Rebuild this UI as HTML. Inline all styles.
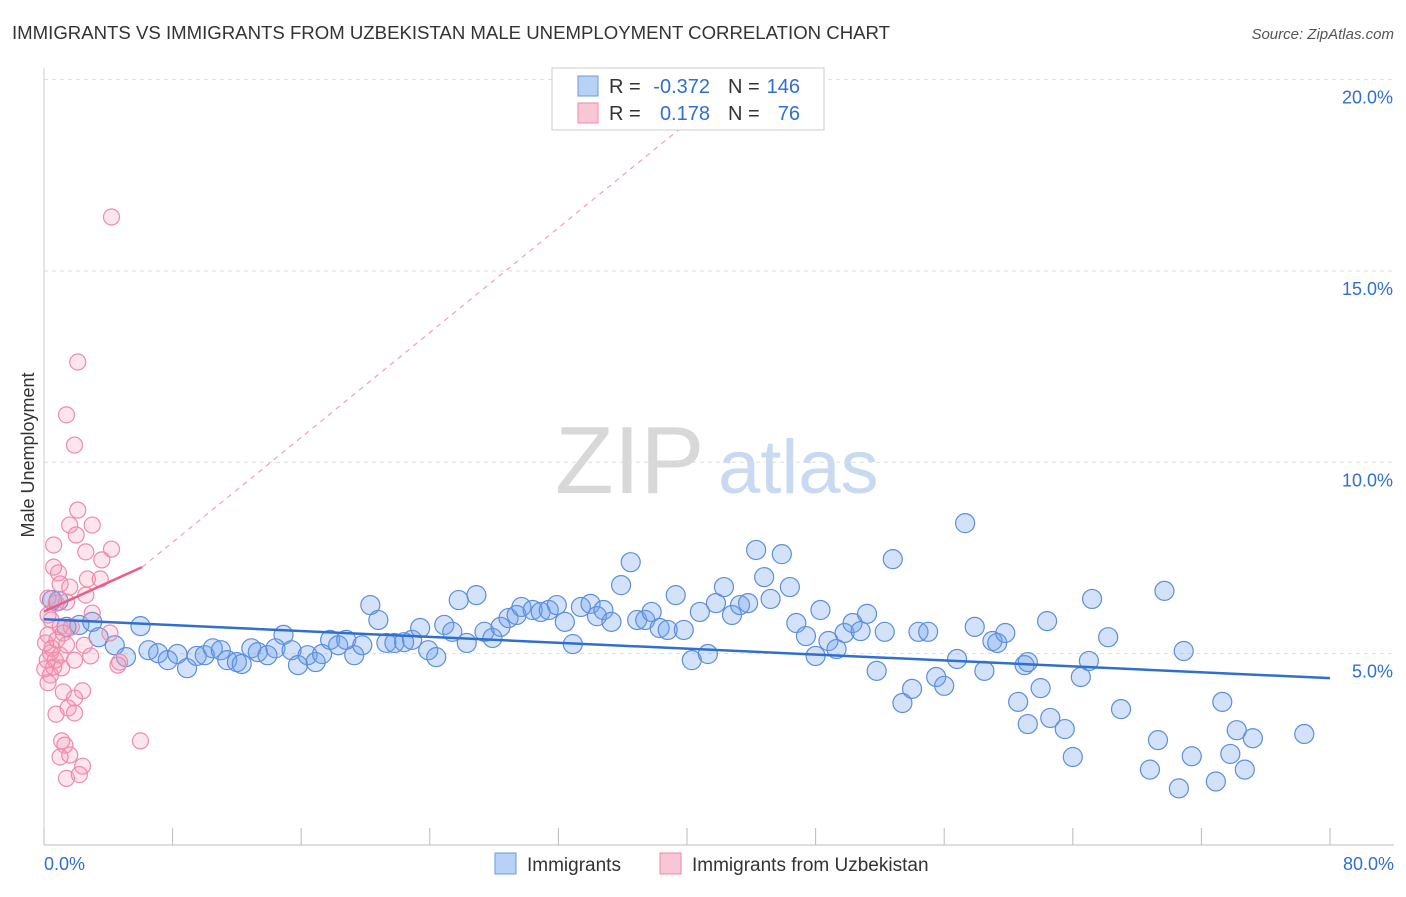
<!DOCTYPE html>
<html><head><meta charset="utf-8"><style>
body{margin:0;background:#fff;font-family:"Liberation Sans",sans-serif}
svg text{font-family:"Liberation Sans",sans-serif}
</style></head><body>
<svg id="c" width="1406" height="892" xmlns="http://www.w3.org/2000/svg">
<text x="12" y="39" font-size="18" fill="#333" textLength="878" lengthAdjust="spacingAndGlyphs">IMMIGRANTS VS IMMIGRANTS FROM UZBEKISTAN MALE UNEMPLOYMENT CORRELATION CHART</text>
<text x="1394" y="39" font-size="15" fill="#555" font-style="italic" text-anchor="end">Source: ZipAtlas.com</text>
<g>
<text x="555" y="493" font-size="96" fill="#d8d8d8" font-family="Liberation Serif">ZIP</text>
<text x="718" y="493" font-size="76" fill="#c8daf2">atlas</text>
</g>
<g id="grid"></g><g id="axes"></g><g id="marks"></g>
<text x="34" y="455" font-size="18" fill="#333" text-anchor="middle" transform="rotate(-90 34 455)">Male Unemployment</text>
<g>
<rect x="552" y="68" width="272" height="62" fill="#fff" stroke="#ccc"/>
<rect x="578" y="76" width="20" height="20" fill="#b8d2f5" stroke="#6a9ae0"/>
<rect x="578" y="103" width="20" height="20" fill="#f9c6d6" stroke="#f08aaa"/>
<g font-size="20">
<text x="609" y="93" fill="#333">R =</text><text x="710" y="93" fill="#2f6fd0" text-anchor="end">-0.372</text>
<text x="728" y="93" fill="#333">N =</text><text x="800" y="93" fill="#2f6fd0" text-anchor="end">146</text></g>
<g font-size="20">
<text x="609" y="120" fill="#333">R =</text><text x="710" y="120" fill="#2f6fd0" text-anchor="end">0.178</text>
<text x="728" y="120" fill="#333">N =</text><text x="800" y="120" fill="#2f6fd0" text-anchor="end">76</text></g>
</g>
<g>
<rect x="495" y="853" width="21" height="21" fill="#b8d2f5" stroke="#6a9ae0"/>
<text x="527" y="871" font-size="19" fill="#333">Immigrants</text>
<rect x="660" y="853" width="21" height="21" fill="#f9c6d6" stroke="#f08aaa"/>
<text x="692" y="871" font-size="19" fill="#333">Immigrants from Uzbekistan</text>
</g>
</svg>
<script>
const yTicks=[5,10,15,20];
const yTickLabels=["5.0%","10.0%","15.0%","20.0%"];
const xTickLabels=["0.0%","80.0%"];
const blueTrend=[5.9,4.36];
const pinkTrend=[6.1,7.26];
const pinkTrendX=[0,6.1];
const pinkDashEnd=[39.6,18.73];
const blueX=[0.5,0.9,1.4,2.2,3.0,3.4,4.4,5.1,6.0,6.5,7.1,7.7,8.3,8.9,9.5,10.0,10.5,11.0,11.4,12.0,12.3,12.9,13.3,13.9,14.4,14.9,15.4,15.8,16.4,16.9,17.3,17.8,18.3,18.8,19.3,19.8,20.3,20.8,21.3,21.8,22.4,22.9,23.4,23.9,24.4,24.9,25.4,25.8,26.3,26.9,27.4,27.9,28.4,28.9,29.4,29.7,30.4,30.9,31.4,31.9,32.4,32.9,33.4,34.0,34.4,34.8,35.3,35.9,36.5,36.9,37.4,37.8,38.3,38.8,39.3,39.8,40.3,40.8,41.3,41.8,42.3,42.8,43.3,43.8,44.3,44.8,45.2,45.9,46.4,46.8,47.4,48.0,48.3,48.8,49.3,49.8,50.3,50.8,51.2,51.8,52.3,52.8,53.4,54.0,54.4,55.0,55.5,56.0,56.8,57.3,57.9,58.5,59.0,59.3,59.8,60.6,61.0,61.2,61.2,62.0,62.4,62.6,63.5,64.0,64.5,65.0,65.2,66.2,67.0,68.8,69.3,69.7,70.6,70.9,71.4,72.9,73.3,73.8,74.2,74.7,75.2,78.4];
const blueY=[6.4,6.38,5.7,5.75,5.83,5.43,5.22,4.91,5.72,5.09,5.01,4.83,4.99,4.62,4.94,4.96,5.14,5.09,4.83,4.78,4.73,5.14,5.04,4.96,5.14,5.49,5.09,4.70,4.96,4.78,4.99,5.36,5.22,5.36,4.96,5.22,6.27,5.88,5.28,5.28,5.30,5.36,5.67,5.09,4.91,5.75,5.57,6.40,5.28,6.53,5.57,5.41,5.70,5.93,6.01,6.22,6.14,6.09,6.14,6.27,5.83,5.25,6.22,6.30,5.98,6.14,5.83,6.79,7.39,5.88,5.88,6.09,5.67,5.62,6.53,5.62,4.83,6.09,4.99,6.32,6.74,6.01,6.27,6.32,7.71,7.00,6.43,7.60,6.74,5.80,5.46,4.94,6.14,5.33,5.12,5.54,5.80,5.59,6.04,4.55,5.57,7.47,3.71,4.08,5.57,5.57,4.39,4.16,4.86,8.41,5.70,4.55,5.33,5.28,5.54,3.74,4.70,4.78,3.16,4.10,5.85,3.32,3.03,2.30,4.39,4.81,6.43,5.43,3.55,1.97,2.74,6.64,1.48,5.07,2.32,1.66,3.74,2.38,3.00,1.97,2.79,2.90];
const pinkX=[4.2,2.1,1.4,1.9,2.1,1.6,3.0,2.0,0.6,4.2,2.6,3.6,0.6,2.7,3.5,1.0,1.6,0.25,0.75,1.4,2.6,3.0,0.45,1.0,1.7,4.1,0.25,0.8,1.2,2.5,0.5,1.0,1.9,0.2,0.6,2.9,4.7,4.6,0.4,1.1,0.25,1.2,2.4,1.9,0.75,1.5,1.9,1.1,1.3,1.6,1.0,2.4,1.4,2.2,6.0,0.25,0.9,0.4,1.4,0.1,0.7,0.05];
const pinkY=[16.41,12.62,11.24,10.45,8.75,8.36,8.36,8.10,7.84,7.73,7.66,7.45,7.26,6.95,6.95,6.82,6.74,6.45,6.32,6.35,6.53,6.06,5.88,5.70,5.70,5.54,5.49,5.36,5.54,5.22,5.14,4.96,4.83,4.83,4.65,4.94,4.78,4.70,4.44,4.63,4.24,4.00,4.03,3.84,3.42,3.58,3.45,2.72,2.61,2.35,2.30,2.06,1.74,1.84,2.72,6.01,7.11,5.02,5.23,5.28,4.83,4.60];
const NS="http://www.w3.org/2000/svg";
const X=v=>44+v*(1330-44)/80, Y=v=>845-v*38.27;
function mk(t,a,p){const e=document.createElementNS(NS,t);for(const k in a)e.setAttribute(k,a[k]);p.appendChild(e);return e;}
const grid=document.getElementById('grid'),axes=document.getElementById('axes'),marks=document.getElementById('marks');
yTicks.forEach((v,i)=>{
 const l=mk('line',{x1:44,x2:1394,y1:Y(v),y2:Y(v),stroke:'#ddd','stroke-dasharray':'4,4'},grid);
 
 
 const t=mk('text',{x:1393,y:Y(v)+24,'font-size':18,fill:'#2f6fd0','text-anchor':'end'},axes);t.textContent=yTickLabels[i];
 
 
});
const ax=mk('line',{x1:44,x2:1394,y1:845,y2:845,stroke:'#bbb'},axes);


const ay=mk('line',{x1:44,x2:44,y1:68,y2:845,stroke:'#ccc'},axes);


for(let i=0;i<=10;i++){const tk=mk('line',{x1:X(i*8),x2:X(i*8),y1:828,y2:845,stroke:'#bbb'},axes);
 
 }
[[0,'start',44],[80,'end',1394]].forEach((d,i)=>{const t=mk('text',{x:d[2],y:870,'font-size':18,fill:'#2f6fd0','text-anchor':d[1]},axes);t.textContent=xTickLabels[i];
 
 });
blueX.forEach((x,i)=>{const c=mk('circle',{cx:X(x),cy:Y(blueY[i]),r:9.5,fill:'rgba(110,160,235,0.3)',stroke:'#5b8fdc','stroke-width':1.2},marks);
 
 });
pinkX.forEach((x,i)=>{const c=mk('circle',{cx:X(x),cy:Y(pinkY[i]),r:8,fill:'rgba(245,150,180,0.25)',stroke:'#f08aaa','stroke-width':1.2},marks);
 
 });
const bl=mk('line',{x1:X(0),y1:Y(blueTrend[0]),x2:X(80),y2:Y(blueTrend[1]),stroke:'#2f6fd0','stroke-width':2.5},marks);


const pd=mk('line',{x1:X(pinkTrendX[1]),y1:Y(pinkTrend[1]),x2:X(pinkDashEnd[0]),y2:Y(pinkDashEnd[1]),stroke:'#f0a0b8','stroke-width':1.2,'stroke-dasharray':'5,5'},marks);


const pl=mk('line',{x1:X(pinkTrendX[0]),y1:Y(pinkTrend[0]),x2:X(pinkTrendX[1]),y2:Y(pinkTrend[1]),stroke:'#e8608a','stroke-width':2.5},marks);


</script>
</body></html>
